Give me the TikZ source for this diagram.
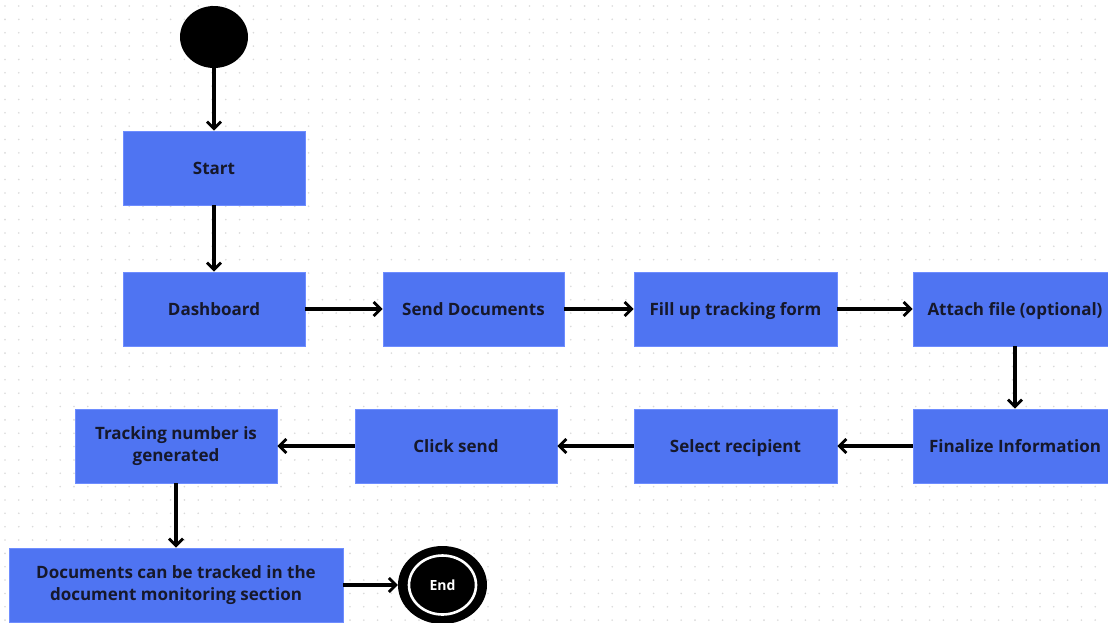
\documentclass[tikz,border=0pt]{standalone}
\usepackage{fontspec}
\setmainfont{Open Sans}
\usetikzlibrary{arrows.meta,shapes.geometric}
\definecolor{boxblue}{HTML}{4F74F2}
\definecolor{boxedge}{HTML}{6E8DFF}
\definecolor{ink}{HTML}{16182B}
\definecolor{dotgray}{HTML}{DADADA}

\begin{document}
\begin{tikzpicture}[x=1pt,y=-1pt,
  stepbox/.style={draw=boxedge, line width=0.8pt, fill=boxblue, text=ink,
    font=\bfseries\fontsize{17}{22}\selectfont, align=center, inner sep=0pt,
    minimum height=74pt},
  oneline/.style={text height=12pt, text depth=0pt},
  flow/.style={line width=3.2pt, draw=black,
    -{Straight Barb[length=7pt,width=14pt,line width=2.8pt]}}]

% canvas and dotted grid
\useasboundingbox (0,0) rectangle (1108,622);
\fill[white] (0,0) rectangle (1108,622);
\foreach \i in {0,...,80} {
  \foreach \j in {0,...,46} {
    \fill[dotgray] ({5+13.8*\i},{6+13.35*\j}) circle (0.9pt);
  }
}

% initial state
\node[ellipse, fill=black, minimum width=68pt, minimum height=62pt, inner sep=0pt] (init) at (214,37) {};

% activities
\node[stepbox, oneline, minimum width=182pt] (start) at (214,168) {Start};
\node[stepbox, oneline, minimum width=182pt] (dash) at (214,309) {Dashboard};
\node[stepbox, oneline, minimum width=181pt] (send) at (473.5,309) {Send Documents};
\node[stepbox, oneline, minimum width=203pt] (fill) at (735.5,309) {Fill up tracking form};
\node[stepbox, oneline, minimum width=204pt] (attach) at (1015,309) {Attach file (optional)};
\node[stepbox, oneline, minimum width=204pt] (final) at (1015,446) {Finalize Information};
\node[stepbox, oneline, minimum width=203pt] (select) at (735.5,446) {Select recipient};
\node[stepbox, oneline, minimum width=202pt] (click) at (456,446) {Click send};
\node[stepbox, minimum width=202pt] (track) at (176,446) {Tracking number is\\generated};
\node[stepbox, minimum width=334pt] (docs) at (176,585) {Documents can be tracked in the\\document monitoring section};

% final state
\node[ellipse, fill=black, minimum width=89pt, minimum height=78pt, inner sep=0pt] (end) at (442.5,585) {};
\draw[white, line width=2.6pt] (end.center) ellipse [x radius=33.5pt, y radius=29.5pt];
\node[text=white, font=\bfseries\fontsize{14}{16}\selectfont, text height=10pt, text depth=0pt] (endlabel) at (end.center) {End};

% transitions
\draw[flow] (init) -- (start);
\draw[flow] (start) -- (dash);
\draw[flow] (dash) -- (send);
\draw[flow] (send) -- (fill);
\draw[flow] (fill) -- (attach);
\draw[flow] (attach) -- (final);
\draw[flow] (final) -- (select);
\draw[flow] (select) -- (click);
\draw[flow] (click) -- (track);
\draw[flow] (track) -- (docs);
\draw[flow] (docs) -- (end);
\end{tikzpicture}
\end{document}
